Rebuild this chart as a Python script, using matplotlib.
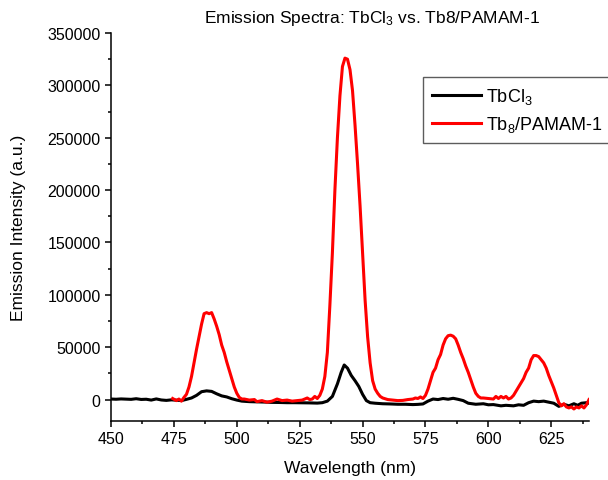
import matplotlib
matplotlib.use("Agg")
import matplotlib.pyplot as plt
from matplotlib.ticker import MultipleLocator

plt.rcParams['font.family'] = ['Liberation Sans', 'DejaVu Sans']
plt.rcParams['mathtext.fontset'] = 'custom'
plt.rcParams['mathtext.rm'] = 'Liberation Sans'
plt.rcParams['mathtext.it'] = 'Liberation Sans'

# TbCl3 spectrum (wavelength nm, intensity in thousands a.u.)
tbcl3_wl = [450, 452, 454, 456, 458, 460, 462, 464, 466, 468, 470, 472, 474, 476, 478,
            480, 482, 484, 486, 488, 490, 492, 494, 495, 496, 498, 500, 502, 505, 508,
            511, 514, 517, 520, 523, 526, 529, 532, 534, 536, 538, 540, 541.5, 542.7, 544,
            545.5, 547, 548.5, 550, 551.5, 553, 555, 558, 561, 564, 567, 570, 572, 574, 576,
            578, 580, 582, 584, 586, 588, 590, 592, 595, 598, 600, 602, 605, 607, 610,
            612, 614, 616, 618, 620, 622, 624, 626, 628, 630, 632, 634, 635.5, 637, 639, 640]
tbcl3_k = [0.5, 0.3, 0.6, 0.4, 0.2, 0.8, 0.1, 0.3, -0.5, 0.6, -0.4, -0.8, -0.3, -0.6, -1.0,
           0.2, 1.5, 4.0, 7.5, 8.3, 7.8, 5.5, 3.5, 3.0, 2.5, 0.8, -0.5, -1.5, -2.0, -2.2,
           -2.4, -2.7, -2.8, -3.0, -3.0, -3.1, -3.2, -3.4, -3.0, -1.5, 3.0, 15.0, 26.0, 33.0, 30.0,
           23.0, 18.0, 12.5, 5.0, -1.0, -3.0, -3.5, -4.0, -4.2, -4.5, -4.5, -4.8, -4.6, -4.2, -1.5,
           0.5, 0.0, 1.0, 0.3, 1.2, 0.2, -1.0, -3.5, -4.5, -4.0, -5.0, -4.8, -6.0, -5.5, -6.0,
           -5.0, -5.5, -3.0, -1.5, -2.0, -1.5, -2.5, -3.5, -6.5, -4.5, -6.0, -4.0, -5.5, -3.5, -3.0, -3.5]

# Tb8/PAMAM-1 spectrum (wavelength nm, intensity in thousands a.u.)
tb8_wl = [474.5, 476, 477, 478, 479, 480, 481, 482, 483, 484, 485, 486, 487, 488, 489, 490,
          491, 492, 493, 494, 495, 496, 497, 498, 499, 500, 501, 502, 503, 505, 507, 508,
          510, 512, 514, 516, 518, 520, 522, 524, 526, 528, 529, 530, 531, 532, 533, 534,
          535, 536, 537, 538, 539, 540, 541, 542, 543, 544, 545, 546, 547, 548, 549, 550,
          551, 552, 553, 554, 555, 556, 557, 558, 560, 562, 564, 566, 568, 570, 571, 572,
          573, 574, 575, 576, 577, 578, 579, 580, 581, 582, 583, 584, 585, 586, 587, 588,
          589, 590, 591, 592, 593, 594, 595, 596, 597, 598, 600, 602, 603, 604, 605, 606,
          607, 608, 609, 610, 611, 612, 613, 614, 615, 616, 617, 618, 619, 620, 621, 622,
          623, 624, 625, 626, 627, 628, 629, 630, 631, 632, 633, 634, 635, 636, 637, 638,
          639, 640]
tb8_k = [1.0, -1.0, 0.5, -1.5, 2.0, 5.0, 12.0, 22.0, 35.0, 48.0, 60.0, 72.0, 82.0, 83.0, 82.0, 83.0,
         77.0, 70.0, 62.0, 52.0, 45.0, 36.0, 28.0, 20.0, 12.0, 6.0, 2.0, 0.5, 0.5, -0.5, 0.0, -2.0,
         -1.0, -2.5, -1.5, 0.5, -1.0, -0.5, -1.5, -1.0, -0.5, 1.5, 0.0, 0.5, 3.0, 1.0, 4.0, 10.0,
         22.0, 45.0, 90.0, 140.0, 200.0, 250.0, 290.0, 318.0, 326.0, 325.0, 315.0, 295.0, 262.0, 225.0, 185.0, 140.0,
         95.0, 60.0, 35.0, 18.0, 10.0, 6.0, 3.0, 1.5, 0.0, -0.5, -1.0, -0.8, 0.0, 0.5, 1.5, 1.0,
         2.5, 1.0, 4.0, 10.0, 18.0, 26.0, 30.0, 38.0, 43.0, 52.0, 58.0, 61.0, 61.5, 60.5, 58.0, 52.0,
         45.0, 39.0, 32.0, 26.0, 19.0, 12.0, 6.0, 3.0, 1.5, 1.5, 1.0, 0.5, 3.0, 1.0, 3.0, 1.5,
         3.0, 0.5, 1.5, 4.0, 8.0, 12.0, 16.0, 20.0, 26.0, 30.0, 38.0, 42.0, 42.0, 41.0, 38.0, 35.0,
         30.0, 23.0, 17.0, 11.0, 4.0, -3.0, -6.0, -4.0, -7.0, -8.0, -7.0, -9.0, -7.0, -8.0, -6.0, -8.0,
         -5.0, 0.0]

series_labels = [r'TbCl$_\mathregular{3}$', r'Tb$_\mathregular{8}$/PAMAM-1']
title = r'Emission Spectra: TbCl$_\mathregular{3}$ vs. Tb8/PAMAM-1'
x_ticks = [450, 475, 500, 525, 550, 575, 600, 625]
y_ticks = [0, 50000, 100000, 150000, 200000, 250000, 300000, 350000]

fig = plt.figure(figsize=(6.08, 4.81), dpi=100)
ax = fig.add_axes([111/608, 1 - 421.5/481, (589 - 111)/608, (421.5 - 34)/481])

ax.plot(tbcl3_wl, [v * 1000 for v in tbcl3_k], color='black', lw=2.2, label=series_labels[0])
ax.plot(tb8_wl, [v * 1000 for v in tb8_k], color='#ff0000', lw=2.2, label=series_labels[1])

ax.set_xlim(450, 640)
ax.set_ylim(-20000, 350000)
ax.set_xticks(x_ticks)
ax.set_yticks(y_ticks)
ax.xaxis.set_minor_locator(MultipleLocator(12.5))
ax.yaxis.set_minor_locator(MultipleLocator(25000))
ax.tick_params(which='major', direction='out', length=4.5, width=1.1, labelsize=11.5, pad=3)
ax.tick_params(which='minor', direction='out', length=2.5, width=1.1)
for s in ['top', 'right']:
    ax.spines[s].set_visible(False)
for s in ['left', 'bottom']:
    ax.spines[s].set_linewidth(1.1)

ax.set_xlabel('Wavelength (nm)', fontsize=12.5, labelpad=10)
ax.set_ylabel('Emission Intensity (a.u.)', fontsize=12.5, labelpad=15)
fig.text(372/608, 1 - 18/481, title, fontsize=12.5, ha='center', va='center')

leg = fig.legend(loc='upper left', bbox_to_anchor=(423/608, 1 - 78/481), fontsize=13,
                 frameon=True, fancybox=False, edgecolor='#333333', handlelength=2.7,
                 handletextpad=0.3, borderpad=0.5, labelspacing=0.45, borderaxespad=0)
leg.get_frame().set_linewidth(1.0)

fig.savefig('out.png', dpi=100)
